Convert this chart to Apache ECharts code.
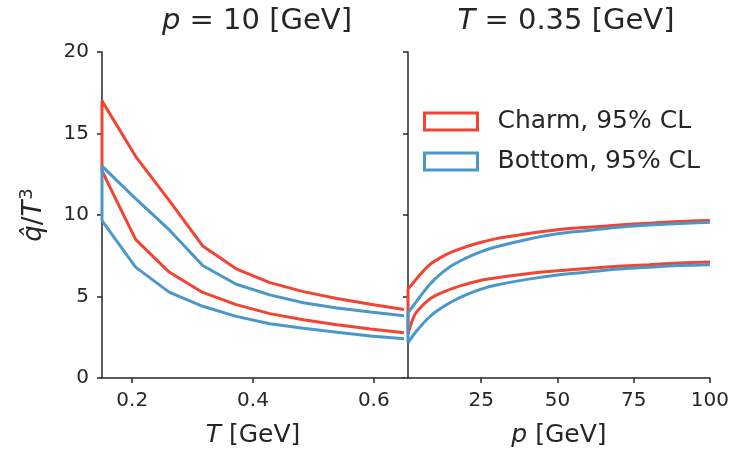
<!DOCTYPE html>
<html>
<head>
<meta charset="utf-8">
<script src="https://cdn.jsdelivr.net/npm/echarts@6/dist/echarts.min.js"></script>
<style>html,body{margin:0;padding:0;background:#fff;}#c{width:732px;height:459px;}</style>
</head>
<body>
<div id="c"></div>
<script>
// Left panel: p = 10 GeV, x = T [GeV]
const T = [0.15, 0.2056, 0.2611, 0.3167, 0.3722, 0.4278, 0.4833, 0.5389, 0.5944, 0.65];
const charmT_hi  = [17.0, 13.6, 10.9, 8.1, 6.7, 5.85, 5.3, 4.88, 4.52, 4.2];
const charmT_lo  = [12.7, 8.5, 6.5, 5.25, 4.5, 3.95, 3.57, 3.27, 3.0, 2.78];
const bottomT_hi = [13.0, 11.0, 9.1, 6.9, 5.75, 5.1, 4.62, 4.3, 4.05, 3.82];
const bottomT_lo = [9.65, 6.8, 5.27, 4.4, 3.78, 3.33, 3.05, 2.8, 2.58, 2.41];

// Right panel: T = 0.35 GeV, x = p [GeV]
const P = [1, 3, 5, 7.5, 10, 15, 20, 25, 30, 40, 50, 60, 70, 80, 90, 100];
const charmP_hi  = [5.45, 5.9, 6.35, 6.85, 7.2, 7.7, 8.05, 8.33, 8.55, 8.85, 9.1, 9.25, 9.38, 9.5, 9.6, 9.67];
const charmP_lo  = [2.7, 3.8, 4.3, 4.75, 5.05, 5.45, 5.75, 6.0, 6.15, 6.4, 6.58, 6.72, 6.85, 6.95, 7.05, 7.12];
const bottomP_hi = [4.0, 4.5, 5.0, 5.6, 6.1, 6.85, 7.35, 7.75, 8.05, 8.5, 8.85, 9.05, 9.25, 9.38, 9.48, 9.55];
const bottomP_lo = [2.15, 2.7, 3.15, 3.65, 4.05, 4.65, 5.1, 5.45, 5.7, 6.05, 6.32, 6.5, 6.68, 6.8, 6.9, 6.95];

const xTicksT = [0.2, 0.4, 0.6];
const xTicksP = [25, 50, 75, 100];

const names = ['Charm, 95% CL', 'Bottom, 95% CL'];
const RED = '#f14432', BLUE = '#4a98c9';
const FONT = 'DejaVu Sans';
const INK = '#262626';

function band(xs, hi, lo) {
  const pts = [];
  for (let i = xs.length - 1; i >= 0; i--) pts.push([xs[i], lo[i]]);
  for (let i = 0; i < xs.length; i++) pts.push([xs[i], hi[i]]);
  return pts;
}
function pairs(xs, ys) { return xs.map((x, i) => [x, ys[i]]); }

function lineSeries(name, color, data, xi, smooth) {
  return {
    type: 'line', name: name, xAxisIndex: xi, yAxisIndex: xi, data: data,
    showSymbol: false, symbol: 'none', smooth: smooth || false,
    lineStyle: { color: color, width: 3 }, itemStyle: { color: color },
    emphasis: { disabled: true }, z: 3
  };
}

const axisLineStyle = { lineStyle: { color: INK, width: 1.5 } };
const tickStyle = { show: true, length: 5, lineStyle: { color: INK, width: 1.5 } };
const labelStyle = { color: INK, fontSize: 20, fontFamily: FONT };

const series = [
  lineSeries(names[0], RED, band(T, charmT_hi, charmT_lo), 0),
  lineSeries(names[1], BLUE, band(T, bottomT_hi, bottomT_lo), 0),
  lineSeries(names[0], RED, pairs(P, charmP_hi), 1, 0.35),
  lineSeries(names[0], RED, pairs(P, charmP_lo), 1, 0.35),
  lineSeries(names[0], RED, [[P[0], charmP_hi[0]], [P[0], charmP_lo[0]]], 1),
  lineSeries(names[1], BLUE, pairs(P, bottomP_hi), 1, 0.35),
  lineSeries(names[1], BLUE, pairs(P, bottomP_lo), 1, 0.35),
  lineSeries(names[1], BLUE, [[P[0], bottomP_hi[0]], [P[0], bottomP_lo[0]]], 1)
];

const italic = (size) => ({ fontStyle: 'italic', fontSize: size, fontFamily: FONT, color: INK });
const plain = (size) => ({ fontSize: size, fontFamily: FONT, color: INK });

const option = {
  animation: false,
  backgroundColor: '#fff',
  title: [
    { text: '{i|p} = 10 [GeV]', left: 252, top: 2, textAlign: 'center',
      textStyle: { fontSize: 29, fontWeight: 'normal', fontFamily: FONT, color: INK, rich: { i: italic(29) } } },
    { text: '{i|T} = 0.35 [GeV]', left: 561, top: 2, textAlign: 'center',
      textStyle: { fontSize: 29, fontWeight: 'normal', fontFamily: FONT, color: INK, rich: { i: italic(29) } } }
  ],
  legend: {
    orient: 'vertical', left: 418, top: 104,
    itemWidth: 53, itemHeight: 17, itemGap: 15,
    textStyle: { fontSize: 25, fontFamily: FONT, color: INK, padding: [0, 0, 0, 15] },
    data: [
      { name: names[0], icon: 'rect', itemStyle: { color: '#fff', borderColor: RED, borderWidth: 3 } },
      { name: names[1], icon: 'rect', itemStyle: { color: '#fff', borderColor: BLUE, borderWidth: 3 } }
    ],
    selectedMode: false
  },
  grid: [
    { left: 102, top: 52, width: 302, height: 326, containLabel: false },
    { left: 408, top: 52, width: 302, height: 326, containLabel: false }
  ],
  xAxis: [
    { type: 'value', gridIndex: 0, min: 0.15, max: 0.65,
      axisLine: axisLineStyle, splitLine: { show: false },
      axisTick: Object.assign({ customValues: xTicksT }, tickStyle),
      axisLabel: Object.assign({ customValues: xTicksT, margin: 13, formatter: v => v.toFixed(1) }, labelStyle),
      name: '{i|T} [GeV]', nameLocation: 'middle', nameGap: 45,
      nameTextStyle: Object.assign({ rich: { i: italic(25) } }, plain(25)) },
    { type: 'value', gridIndex: 1, min: 1, max: 100,
      axisLine: axisLineStyle, splitLine: { show: false },
      axisTick: Object.assign({ customValues: xTicksP }, tickStyle),
      axisLabel: Object.assign({ customValues: xTicksP, margin: 13 }, labelStyle),
      name: '{i|p} [GeV]', nameLocation: 'middle', nameGap: 45,
      nameTextStyle: Object.assign({ rich: { i: italic(25) } }, plain(25)) }
  ],
  yAxis: [
    { type: 'value', gridIndex: 0, min: 0, max: 20, interval: 5,
      axisLine: Object.assign({ show: true }, axisLineStyle), splitLine: { show: false },
      axisTick: tickStyle,
      axisLabel: Object.assign({ margin: 13 }, labelStyle),
      name: '{i|q̂}/{i|T}{sup|3}', nameLocation: 'middle', nameGap: 52, nameRotate: 90,
      nameTextStyle: Object.assign({ rich: {
        i: italic(26),
        sup: { fontSize: 18, fontFamily: FONT, color: INK, padding: [0, 0, 14, 1] }
      } }, plain(26)) },
    { type: 'value', gridIndex: 1, min: 0, max: 20, interval: 5,
      axisLine: Object.assign({ show: true }, axisLineStyle), splitLine: { show: false },
      axisTick: tickStyle,
      axisLabel: { show: false } }
  ],
  series: series
};

const chart = echarts.init(document.getElementById('c'), null, { renderer: 'canvas' });
chart.setOption(option);
</script>
</body>
</html>
